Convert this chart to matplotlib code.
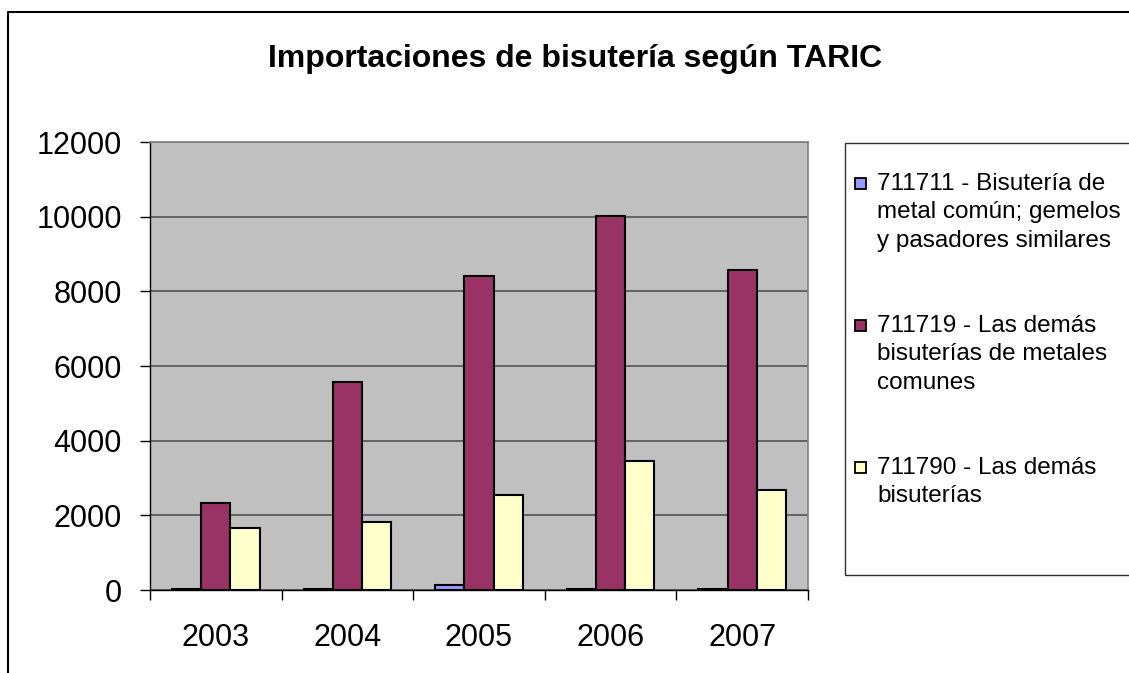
import matplotlib
matplotlib.use("Agg")
import matplotlib.pyplot as plt
from matplotlib.patches import Rectangle
from matplotlib.lines import Line2D
import numpy as np

plt.rcParams['font.family'] = ['Liberation Sans', 'DejaVu Sans']

years = ['2003', '2004', '2005', '2006', '2007']
s711711 = [40, 40, 130, 40, 40]
s711719 = [2340, 5570, 8400, 10020, 8570]
s711790 = [1650, 1810, 2550, 3460, 2670]

labels = ['711711 - Bisutería de\nmetal común; gemelos\ny pasadores similares',
          '711719 - Las demás\nbisuterías de metales\ncomunes',
          '711790 - Las demás\nbisuterías']
colors = ['#9999FF', '#993366', '#FFFFCC']

W, H = 1129, 673
fig = plt.figure(figsize=(W / 100, H / 100), dpi=100)


def fx(px):
    return px / W


def fy(py):
    return 1 - py / H


ax = fig.add_axes([fx(150), fy(590), fx(808) - fx(150), fy(142) - fy(590)])
ax.set_facecolor('#C0C0C0')

x = np.arange(len(years))
w = 1 / 4.5
for i, (vals, c) in enumerate(zip([s711711, s711719, s711790], colors)):
    ax.bar(x + (i - 1) * w, vals, width=w, color=c, edgecolor='black',
           linewidth=1.5, zorder=3)

ax.set_xlim(-0.5, len(years) - 0.5)
ax.set_ylim(0, 12000)
ax.set_yticks(np.arange(0, 12001, 2000))
ax.yaxis.grid(True, color='#4a4a4a', linewidth=1.1, zorder=1)
ax.set_axisbelow(True)

ax.set_xticks(x)
ax.set_xticklabels(years)
ax.set_xticks(np.arange(len(years) + 1) - 0.5, minor=True)
ax.tick_params(axis='x', which='major', length=0, pad=24, labelsize=22)
ax.tick_params(axis='x', which='minor', length=7.2, width=1, direction='out')
ax.tick_params(axis='y', length=7.2, width=1, direction='out', pad=13, labelsize=22)

for side in ['top', 'right']:
    ax.spines[side].set_color('#808080')
    ax.spines[side].set_linewidth(1.2)
for side in ['left', 'bottom']:
    ax.spines[side].set_color('black')
    ax.spines[side].set_linewidth(1.0)

fig.text(fx(575), fy(67), 'Importaciones de bisutería según TARIC',
         ha='center', va='baseline', fontsize=23, fontweight='bold')

# legend box (runs past the right edge like the original)
fig.patches.append(Rectangle((fx(845), fy(575)), fx(1140) - fx(845),
                             fy(143) - fy(575), transform=fig.transFigure,
                             facecolor='none', edgecolor='#303030', linewidth=1.0))
tops = [173, 315, 457]
for lab, c, t in zip(labels, colors, tops):
    fig.patches.append(Rectangle((fx(855), fy(t + 16)), fx(11), fy(0) - fy(11),
                                 transform=fig.transFigure, facecolor=c,
                                 edgecolor='black', linewidth=1.3))
    fig.text(fx(877), fy(t), lab, ha='left', va='top', fontsize=17.5,
             linespacing=1.38)

# outer chart frame
fig.lines.append(Line2D([fx(8), fx(8), 1], [0, fy(12), fy(12)],
                        transform=fig.transFigure, color='black', linewidth=1.5))

fig.savefig('out.png', dpi=100)
